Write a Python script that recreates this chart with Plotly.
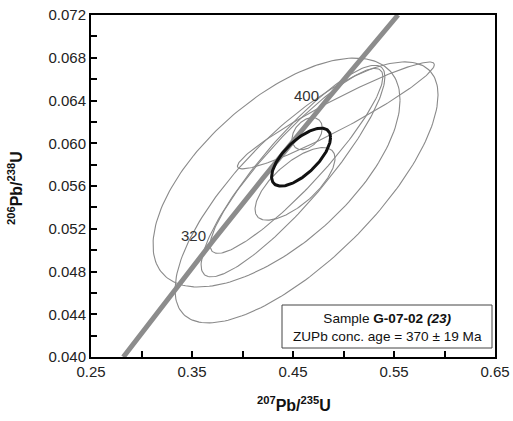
import numpy as np
import plotly.graph_objects as go

# Concordia curve points
conc_x = [0.282, 0.336, 0.371, 0.420, 0.483, 0.554]
conc_y = [0.0400, 0.0467, 0.0509, 0.0567, 0.0640, 0.0720]
age_labels = ["320", "400"]
age_x = [0.351, 0.463]
age_y = [0.0514, 0.0645]

# Error ellipses: centre, half-extent in x and y, correlation
ell_cx = [0.4337, 0.4634, 0.450, 0.4535, 0.452, 0.464, 0.4925]
ell_cy = [0.05726, 0.0554, 0.0574, 0.05835, 0.0562, 0.0609, 0.0626]
ell_sx = [0.1223, 0.1302, 0.091, 0.0855, 0.0396, 0.015, 0.0975]
ell_sy = [0.01071, 0.01221, 0.0099, 0.00865, 0.0034, 0.0015, 0.0050]
ell_rho = [0.633, 0.747, 0.89, 0.91, 0.70, 0.35, 0.95]

# Concordia age ellipse (bold)
mean_cx, mean_cy, mean_sx, mean_sy, mean_rho = 0.458, 0.0587, 0.0292, 0.00271, 0.68

x_ticks = [0.25, 0.35, 0.45, 0.55, 0.65]
y_ticks = [0.040, 0.044, 0.048, 0.052, 0.056, 0.060, 0.064, 0.068, 0.072]

FONT = "Arial, Liberation Sans, sans-serif"


def ellipse(cx, cy, sx, sy, rho, n=200):
    t = np.linspace(0, 2 * np.pi, n)
    x = cx + sx * np.cos(t)
    y = cy + sy * (rho * np.cos(t) + np.sqrt(1 - rho ** 2) * np.sin(t))
    return x, y


fig = go.Figure()
for cx, cy, sx, sy, r in zip(ell_cx, ell_cy, ell_sx, ell_sy, ell_rho):
    ex, ey = ellipse(cx, cy, sx, sy, r)
    fig.add_trace(go.Scatter(x=ex, y=ey, mode="lines",
                             line=dict(color="#8a8a8a", width=1.1),
                             hoverinfo="skip", showlegend=False))

fig.add_trace(go.Scatter(x=conc_x, y=conc_y, mode="lines",
                         line=dict(color="#8c8c8c", width=5),
                         hoverinfo="skip", showlegend=False))

mx, my = ellipse(mean_cx, mean_cy, mean_sx, mean_sy, mean_rho)
fig.add_trace(go.Scatter(x=mx, y=my, mode="lines",
                         line=dict(color="#111111", width=3),
                         hoverinfo="skip", showlegend=False))

for lab, ax_, ay_ in zip(age_labels, age_x, age_y):
    fig.add_annotation(x=ax_, y=ay_, text=lab, showarrow=False,
                       font=dict(family=FONT, size=15, color="#333"))

fig.add_shape(type="rect", xref="paper", yref="paper",
              x0=(282 - 91) / 404, x1=(492 - 91) / 404,
              y0=(357 - 348) / 342, y1=(357 - 305) / 342,
              line=dict(color="#444", width=1), fillcolor="white")
fig.add_annotation(xref="paper", yref="paper", x=(387 - 91) / 404, y=(357 - 327) / 342,
                   xanchor="center", yanchor="middle",
                   text="Sample <b>G-07-02 <i>(23)</i></b><br>ZUPb conc. age = 370 ± 19 Ma",
                   showarrow=False, align="center",
                   font=dict(family=FONT, size=13.6, color="#111"))

# axis titles
fig.add_annotation(xref="paper", yref="paper", x=(294 - 91) / 404, y=(357 - 404) / 342,
                   xanchor="center", yanchor="middle", showarrow=False,
                   text="<b><sup>207</sup>Pb/<sup>235</sup>U</b>",
                   font=dict(family=FONT, size=16, color="#111"))
fig.add_annotation(xref="paper", yref="paper", x=(15 - 91) / 404, y=(357 - 188) / 342,
                   xanchor="center", yanchor="middle", showarrow=False, textangle=-90,
                   text="<b><sup>206</sup>Pb/<sup>238</sup>U</b>",
                   font=dict(family=FONT, size=16, color="#111"))

axis_font = dict(family=FONT, size=15, color="#222")
fig.update_layout(
    width=513, height=421,
    margin=dict(l=91, r=18, t=15, b=64),
    paper_bgcolor="white", plot_bgcolor="white",
    xaxis=dict(range=[0.25, 0.65], tickvals=x_ticks, automargin=False,
               ticktext=[f"{v:.2f}" for v in x_ticks],
               ticks="inside", ticklen=6, tickwidth=2, tickcolor="black",
               minor=dict(dtick=0.05, tick0=0.25, ticks="inside", ticklen=6,
                          tickwidth=2, tickcolor="black", showgrid=False),
               showline=True, linecolor="black", linewidth=2, mirror=True,
               showgrid=False, zeroline=False, tickfont=axis_font),
    yaxis=dict(range=[0.040, 0.072], tickvals=y_ticks, automargin=False,
               ticktext=[f"{v:.3f}" for v in y_ticks],
               ticks="inside", ticklen=6, tickwidth=2, tickcolor="black",
               minor=dict(dtick=0.002, tick0=0.040, ticks="inside", ticklen=6,
                          tickwidth=2, tickcolor="black", showgrid=False),
               showline=True, linecolor="black", linewidth=2, mirror=True,
               showgrid=False, zeroline=False, tickfont=axis_font),
)

fig.write_html("out.html", config={"displayModeBar": False},
               post_script="document.body.style.margin='0';document.body.style.overflow='hidden';")
